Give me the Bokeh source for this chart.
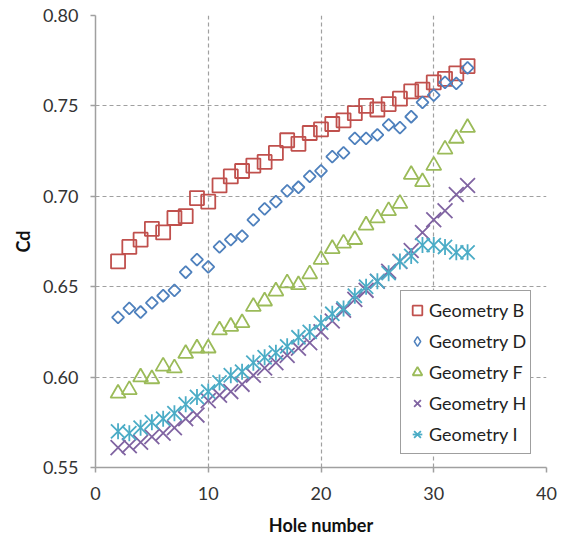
import numpy as np
from bokeh.plotting import figure
from bokeh.models import Range1d, FixedTicker, Legend, LegendItem, NumeralTickFormatter
from bokeh.embed import file_html
from bokeh.resources import INLINE

hole = list(range(2, 34))
cd_b = [0.664, 0.672, 0.676, 0.682, 0.680, 0.688, 0.689, 0.699, 0.697, 0.706,
        0.711, 0.714, 0.717, 0.719, 0.724, 0.731, 0.729, 0.735, 0.737, 0.740,
        0.742, 0.746, 0.750, 0.748, 0.751, 0.754, 0.758, 0.759, 0.763, 0.765,
        0.768, 0.772]
cd_d = [0.633, 0.638, 0.636, 0.641, 0.645, 0.648, 0.658, 0.665, 0.661, 0.672,
        0.676, 0.678, 0.687, 0.693, 0.697, 0.703, 0.705, 0.711, 0.714, 0.722,
        0.724, 0.732, 0.732, 0.734, 0.7395, 0.738, 0.744, 0.752, 0.756, 0.763,
        0.7625, 0.771]
cd_f = [0.591, 0.593, 0.600, 0.599, 0.606, 0.605, 0.613, 0.616, 0.616, 0.626,
        0.628, 0.630, 0.639, 0.642, 0.6475, 0.652, 0.651, 0.657, 0.665, 0.671,
        0.674, 0.676, 0.684, 0.688, 0.692, 0.696, 0.712, 0.708, 0.717, 0.726,
        0.732, 0.738]
cd_h = [0.561, 0.562, 0.564, 0.567, 0.569, 0.572, 0.577, 0.579, 0.587, 0.590,
        0.592, 0.596, 0.601, 0.605, 0.608, 0.612, 0.616, 0.619, 0.625, 0.631,
        0.637, 0.643, 0.648, 0.653, 0.6585, 0.664, 0.670, 0.680, 0.687, 0.692,
        0.701, 0.706]
cd_i = [0.570, 0.569, 0.572, 0.575, 0.577, 0.580, 0.585, 0.589, 0.592, 0.597,
        0.601, 0.603, 0.608, 0.611, 0.6135, 0.617, 0.622, 0.625, 0.630, 0.635,
        0.638, 0.645, 0.650, 0.653, 0.6575, 0.664, 0.667, 0.673, 0.673, 0.672,
        0.669, 0.669]

x_ticks = [0, 10, 20, 30, 40]
y_ticks = [0.55, 0.60, 0.65, 0.70, 0.75, 0.80]
labels = ["Geometry B", "Geometry D", "Geometry F", "Geometry H", "Geometry I"]
x_title = "Hole number"
y_title = "Cd"

FONT = "Lato"
GRID = "#a0a0a0"

p = figure(width=563, height=538, output_backend="svg", toolbar_location=None,
           x_range=Range1d(0, 40), y_range=Range1d(0.55, 0.80),
           min_border_left=95, min_border_right=17, min_border_top=15,
           min_border_bottom=69)
p.outline_line_color = None
p.background_fill_color = "white"
p.border_fill_color = "white"

for ax in (p.xaxis[0], p.yaxis[0]):
    ax.axis_line_color = GRID
    ax.axis_line_width = 1.5
    ax.major_tick_line_color = GRID
    ax.major_tick_line_width = 1.5
    ax.major_tick_out = 5
    ax.major_tick_in = 0
    ax.minor_tick_line_color = None
    ax.major_label_text_font = FONT
    ax.major_label_text_font_size = "18px"
    ax.major_label_text_color = "#333333"
    ax.axis_label_text_font = FONT
    ax.axis_label_text_font_size = "18px"
    ax.axis_label_text_font_style = "bold"
    ax.axis_label_text_color = "#111111"

p.xaxis.ticker = FixedTicker(ticks=x_ticks)
p.yaxis.ticker = FixedTicker(ticks=y_ticks)
p.yaxis.formatter = NumeralTickFormatter(format="0.00")
p.xaxis.axis_label = x_title
p.yaxis.axis_label = y_title
p.xaxis.major_label_standoff = 14
p.xaxis.axis_label_standoff = 11
p.yaxis.major_label_standoff = 12
p.yaxis.axis_label_standoff = 6

for g in (p.xgrid[0], p.ygrid[0]):
    g.grid_line_color = GRID
    g.grid_line_dash = "4 3"
    g.grid_line_width = 1.2

LW = 1.8
r_b = p.scatter(hole, cd_b, marker="square", size=14, fill_color=None,
                line_color="#C0504D", line_width=LW)
r_d = p.scatter(hole, cd_d, marker="square", size=8.5, angle=np.pi / 4,
                fill_color=None, line_color="#4F81BD", line_width=LW)
r_f = p.scatter(hole, cd_f, marker="triangle", size=15, fill_color=None,
                line_color="#9BBB59", line_width=LW)
r_h = p.scatter(hole, cd_h, marker="x", size=21, line_color="#8064A2",
                line_width=LW)
r_i1 = p.scatter(hole, cd_i, marker="x", size=20, line_color="#4BACC6",
                 line_width=LW)
r_i2 = p.scatter(hole, cd_i, marker="dash", size=16, angle=np.pi / 2,
                 line_color="#4BACC6", line_width=LW)

# legend key for the diamond series (zero-size, so only the legend shows it)
r_d_key = p.scatter(hole, cd_d, marker="diamond", size=0, fill_color=None,
                    line_color="#4F81BD", line_width=1.5)

legend = Legend(items=[
    LegendItem(label=labels[0], renderers=[r_b]),
    LegendItem(label=labels[1], renderers=[r_d_key]),
    LegendItem(label=labels[2], renderers=[r_f]),
    LegendItem(label=labels[3], renderers=[r_h]),
    LegendItem(label=labels[4], renderers=[r_i1, r_i2]),
], location=(305, 13))
legend.label_text_font = FONT
legend.label_text_font_size = "18px"
legend.label_text_color = "#222222"
legend.border_line_color = "#404040"
legend.border_line_width = 1.5
legend.background_fill_color = "white"
legend.background_fill_alpha = 1.0
legend.glyph_width = 24
legend.glyph_height = 30
legend.spacing = 1
legend.padding = 4
legend.label_standoff = 0
legend.margin = 0
p.add_layout(legend, "center")

open("out.html", "w").write(file_html(p, INLINE))
